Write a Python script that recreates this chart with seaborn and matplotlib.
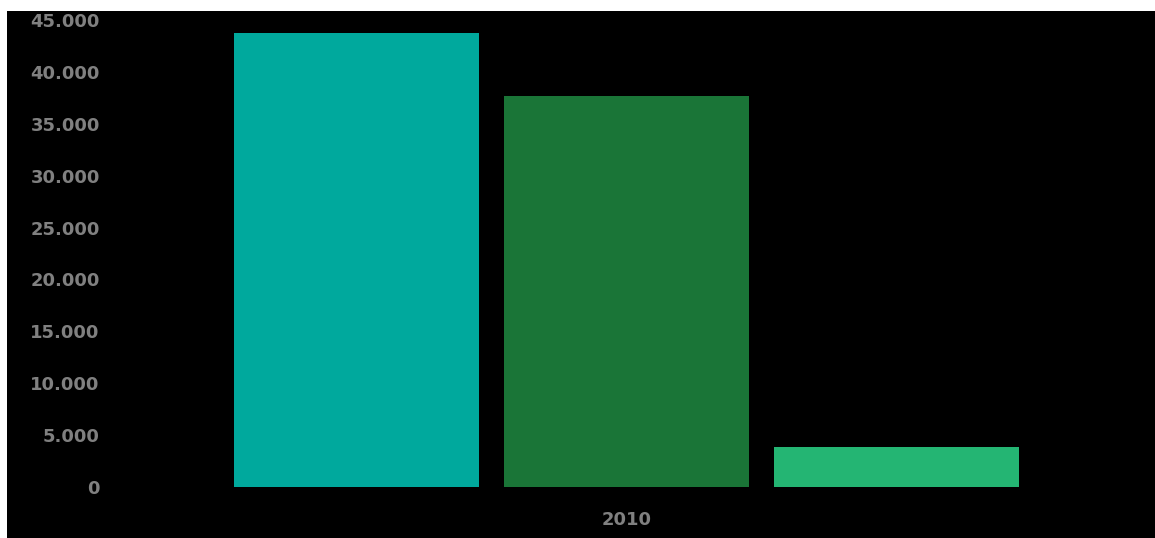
import matplotlib
matplotlib.use("Agg")
import matplotlib.pyplot as plt
import matplotlib.ticker as mticker
from matplotlib.patches import Rectangle
import seaborn as sns
import pandas as pd

# Data
years = ["2010"]
series = ["Serie 1", "Serie 2", "Serie 3"]
values = [43700, 37700, 3850]
colors = ["#00A99D", "#1A7537", "#24B573"]
yticks = [0, 5000, 10000, 15000, 20000, 25000, 30000, 35000, 40000, 45000]

df = pd.DataFrame({"year": years * len(series), "series": series, "value": values})

sns.set_style("dark")
plt.rcParams["font.family"] = ["DejaVu Sans"]

W, H = 1155, 538
fig = plt.figure(figsize=(W / 100, H / 100), dpi=100, facecolor="white")
fig.patches.append(Rectangle((7 / W, 0), 1 - 7 / W, 1 - 11 / H, transform=fig.transFigure,
                             facecolor="black", edgecolor="none", zorder=-10))

ax = fig.add_axes([115 / W, (H - 487) / H, 1 - 115 / W, (487 - 20) / H])
ax.set_facecolor("black")

sns.barplot(data=df, x="year", y="value", hue="series", palette=colors,
            width=0.8, gap=0.09, ax=ax, legend=False, saturation=1, edgecolor="none")

px_per_unit = 1012.5
center = 626.5
ax.set_xlim(-(center - 115) / px_per_unit, (W - center) / px_per_unit)
ax.set_ylim(0, 45000)
ax.set_yticks(yticks)
ax.yaxis.set_major_formatter(mticker.FuncFormatter(lambda v, p: f"{int(v):,}".replace(",", ".")))
ax.grid(False)
for s in ax.spines.values():
    s.set_visible(False)
ax.tick_params(axis="y", length=0, pad=11, labelsize=13, labelcolor="#808080")
ax.tick_params(axis="x", length=0, pad=17, labelsize=13, labelcolor="#808080")
for lbl in ax.get_xticklabels() + ax.get_yticklabels():
    lbl.set_fontweight("bold")
ax.set_xlabel("")
ax.set_ylabel("")

fig.savefig("out.png", dpi=100, facecolor=fig.get_facecolor())
